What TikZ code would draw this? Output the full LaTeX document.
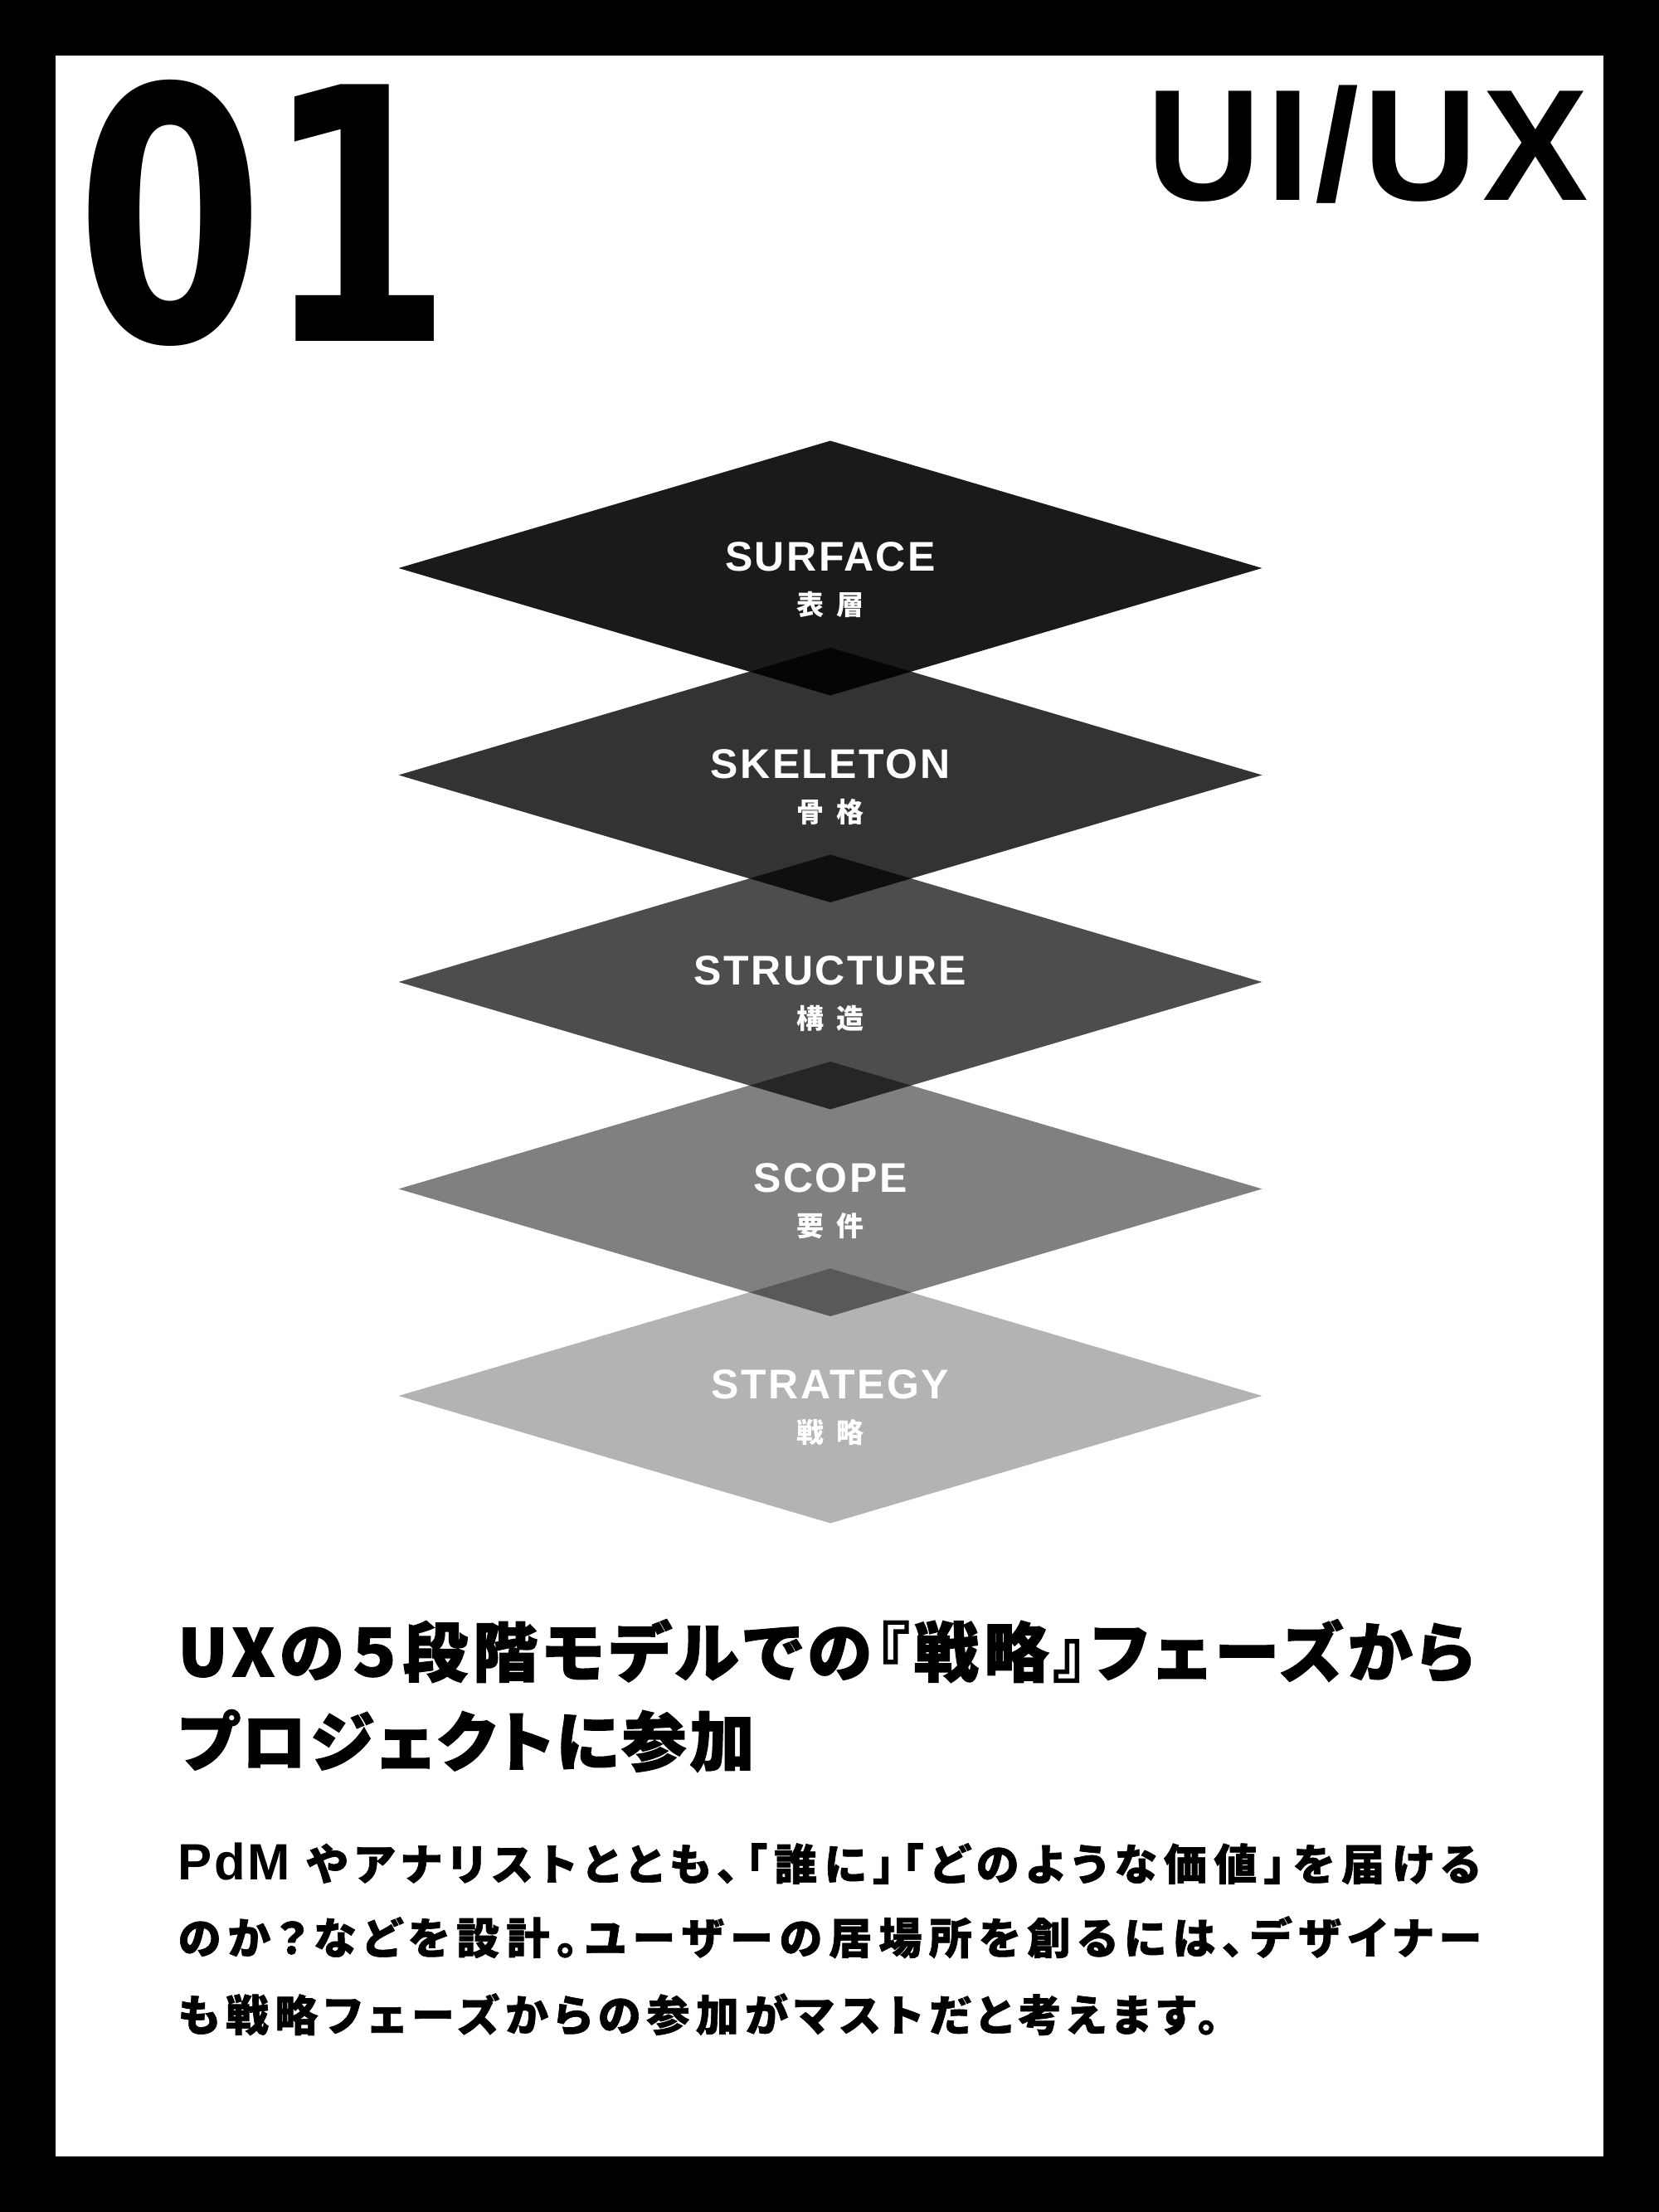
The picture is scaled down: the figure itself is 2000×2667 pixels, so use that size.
\documentclass[tikz,border=0pt]{standalone}
\usepackage{fontspec}
\usepackage{xcolor}
\setmainfont{Liberation Sans}
\newfontfamily\jpfont[RawFeature=+palt]{Noto Sans CJK JP}
\newfontfamily\numfont{DejaVu Sans}
\usetikzlibrary{positioning}

\definecolor{surfacegray}{HTML}{1A1A1A}
\definecolor{skeletongray}{HTML}{333333}
\definecolor{structuregray}{HTML}{4D4D4D}
\definecolor{scopegray}{HTML}{808080}
\definecolor{strategygray}{HTML}{B3B3B3}

\begin{document}
\begin{tikzpicture}[
            x=0.25pt, y=0.25pt,
            layer name/.style={text=white, inner sep=0pt, anchor=base,
                font=\bfseries\fontsize{12.5pt}{12.5pt}\selectfont\addfontfeature{LetterSpace=5}},
            layer sub/.style={text=white, inner sep=0pt, anchor=base,
                font=\jpfont\bfseries\fontsize{8.25pt}{8.25pt}\selectfont\addfontfeature{LetterSpace=45}},
            heading/.style={inner sep=0pt, anchor=base west,
                font=\jpfont\bfseries\fontsize{19.5pt}{19.5pt}\selectfont\addfontfeature{LetterSpace=8,FakeBold=2}},
            body text/.style={inner sep=0pt, anchor=base west,
                font=\jpfont\bfseries\fontsize{13pt}{13pt}\selectfont\addfontfeature{LetterSpace=16,FakeBold=1.2}},
        ]
            \useasboundingbox (0,0) rectangle (2000,2667);
            % frame
            \fill[black] (0,0) rectangle (2000,2667);
            \fill[white] (67,67) rectangle (1933,2600);

            % number and title
            \node[anchor=base west, inner sep=0pt] (number) at (90.5,2255)
                {\resizebox{113.7pt}{78.8pt}{\numfont\bfseries 01}};
            \node[anchor=base east, inner sep=0pt,
                font=\bfseries\fontsize{47.8pt}{47.8pt}\selectfont\addfontfeature{LetterSpace=3}]
                (title) at (1916,2425) {UI/UX};

            % five planes
            \begin{scope}[blend mode=multiply]
                \fill[surfacegray] (1001,1982) +(0,153.5) -- +(520.5,0) -- +(0,-153.5) -- +(-520.5,0) -- cycle;
                \fill[skeletongray] (1001,1732.5) +(0,153.5) -- +(520.5,0) -- +(0,-153.5) -- +(-520.5,0) -- cycle;
                \fill[structuregray] (1001,1483) +(0,153.5) -- +(520.5,0) -- +(0,-153.5) -- +(-520.5,0) -- cycle;
                \fill[scopegray] (1001,1233.5) +(0,153.5) -- +(520.5,0) -- +(0,-153.5) -- +(-520.5,0) -- cycle;
                \fill[strategygray] (1001,984) +(0,153.5) -- +(520.5,0) -- +(0,-153.5) -- +(-520.5,0) -- cycle;
            \end{scope}

            \node[layer name] (surface) at (1001,1978) {SURFACE};
            \node[layer sub] (surface-jp) at (1001,1925) {表層};
            \node[layer name] (skeleton) at (1001,1728.5) {SKELETON};
            \node[layer sub] (skeleton-jp) at (1001,1675.5) {骨格};
            \node[layer name] (structure) at (1001,1479) {STRUCTURE};
            \node[layer sub] (structure-jp) at (1001,1426) {構造};
            \node[layer name] (scope) at (1001,1229.5) {SCOPE};
            \node[layer sub] (scope-jp) at (1001,1176.5) {要件};
            \node[layer name] (strategy) at (1001,980) {STRATEGY};
            \node[layer sub] (strategy-jp) at (1001,927) {戦略};

            % text
            \node[heading] (head1) at (214,646) {UXの５段階モデルでの『戦略』フェーズから};
            \node[heading] (head2) at (214,538) {\addfontfeature{LetterSpace=5}プロジェクトに参加};
            \node[body text] (body1) at (214,400)
                {\addfontfeature{LetterSpace=16.5}{\rmfamily\fontsize{15.4pt}{15.4pt}\selectfont\addfontfeature{LetterSpace=4}PdM}\hspace{5pt}やアナリストととも、「誰に」「どのような価値」を届ける};
            \node[body text] (body2) at (214,311)
                {のか{\addfontfeature{RawFeature=-palt}？}などを設計。ユーザーの居場所を創るには、デザイナー};
            \node[body text] (body3) at (214,218)
                {\addfontfeature{LetterSpace=14}も戦略フェーズからの参加がマストだと考えます。};
        \end{tikzpicture}
\end{document}
